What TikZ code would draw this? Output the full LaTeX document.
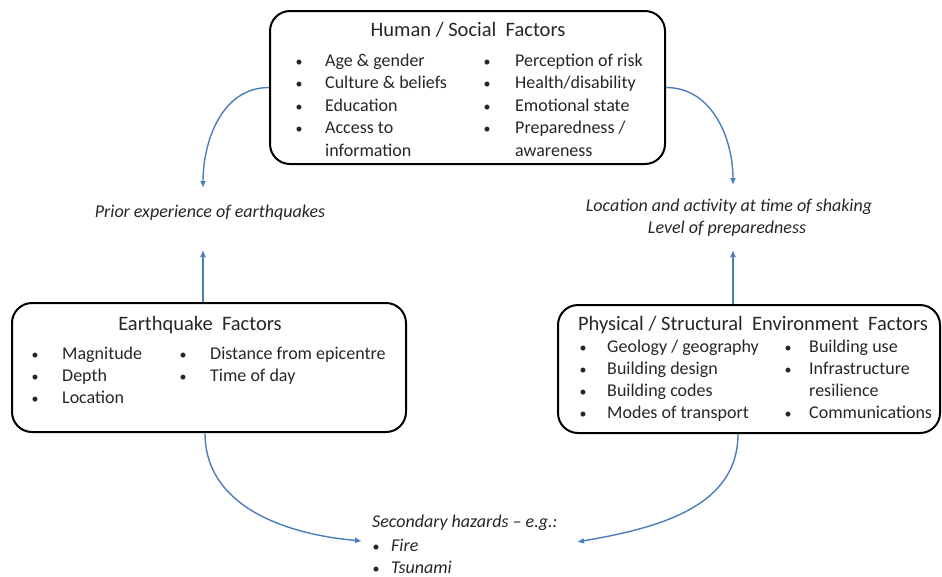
\documentclass[tikz,border=0pt]{standalone}
\usepackage{fontspec}
\setmainfont{Carlito}
\usetikzlibrary{arrows.meta,calc}
\definecolor{txt}{RGB}{38,38,38}
\definecolor{arrblue}{RGB}{74,126,187}
\newcommand\bitem[5]{%
  \node[bul] (#1b) at (#2,#4) {\textbullet};
  \node[itm] (#1) at (#3,#4) {#5};}
\begin{document}
\begin{tikzpicture}[x=1pt,y=-1pt,
  box/.style={draw=black, line width=2pt, rounded corners=20pt, inner sep=0pt},
  itm/.style={anchor=base west, inner sep=0pt, text=txt, font=\fontsize{18}{22}\selectfont},
  bul/.style={anchor=base, inner sep=0pt, text=txt, font=\fontsize{14}{22}\selectfont},
  ttl/.style={anchor=base, inner sep=0pt, text=txt, font=\fontsize{20.5}{24}\selectfont},
  lbl/.style={anchor=base, inner sep=0pt, text=txt, font=\fontsize{18}{22}\selectfont\itshape},
  arr/.style={draw=arrblue, line width=1.4pt, -{Latex[length=7pt,width=6pt]}}]
\useasboundingbox (0,0) rectangle (942,576);

% boxes
\node[box, minimum width=395pt, minimum height=153pt] (human) at (467.5,87.5) {};
\node[box, minimum width=394pt, minimum height=129pt] (eq) at (209,367.5) {};
\node[box, minimum width=382pt, minimum height=128pt] (phys) at (749,369) {};

% human box content
\node[ttl] (humant) at (468,36) {Human / Social\ \ Factors};
\bitem{h1}{299}{325}{66}{Age \& gender}
\bitem{h2}{299}{325}{88.5}{Culture \& beliefs}
\bitem{h3}{299}{325}{111}{Education}
\bitem{h4}{299}{325}{133.5}{Access to}
\node[itm] (h5) at (325,156) {information};
\bitem{h6}{487}{515}{66}{Perception of risk}
\bitem{h7}{487}{515}{88.5}{Health/disability}
\bitem{h8}{487}{515}{111}{Emotional state}
\bitem{h9}{487}{515}{133.5}{Preparedness /}
\node[itm] (h10) at (515,156) {awareness};

% earthquake box content
\node[ttl] (eqt) at (200,330) {Earthquake\ \ Factors};
\bitem{e1}{35}{62}{359}{Magnitude}
\bitem{e2}{35}{62}{381}{Depth}
\bitem{e3}{35}{62}{403}{Location}
\bitem{e4}{183}{210}{359}{Distance from epicentre}
\bitem{e5}{183}{210}{381}{Time of day}

% physical box content
\node[ttl] (physt) at (753,330) {Physical / Structural\ \ Environment\ \ Factors};
\bitem{p1}{583}{607}{352}{Geology / geography}
\bitem{p2}{583}{607}{374}{Building design}
\bitem{p3}{583}{607}{396}{Building codes}
\bitem{p4}{583}{607}{418}{Modes of transport}
\bitem{p5}{788}{809}{352}{Building use}
\bitem{p6}{788}{809}{374}{Infrastructure}
\node[itm] (p7) at (809,396) {resilience};
\bitem{p8}{788}{809}{418}{Communications}

% labels
\node[lbl] (prior) at (210,217) {Prior experience of earthquakes};
\node[lbl] (loc1) at (729,211) {Location and activity at time of shaking};
\node[lbl] (loc2) at (727,233) {Level of preparedness};
\node[lbl, anchor=base west] (sec) at (372,527) {Secondary hazards -- e.g.:};
\node[bul] (s1b) at (376,551) {\textbullet};
\node[lbl, anchor=base west] (s1) at (391,551) {Fire};
\node[bul] (s2b) at (376,573) {\textbullet};
\node[lbl, anchor=base west] (s2) at (391,573) {Tsunami};

% arrow end points
\coordinate (a1) at (203,188);
\coordinate (a2) at (733,185);
\coordinate (a3) at (203,250);
\coordinate (a4) at (733,250);
\coordinate (a5) at (362,541);
\coordinate (a6) at (577,542);

% connectors
\draw[arr] (human.west) to[out=180,in=90] (a1);
\draw[arr] (human.east) to[out=0,in=90] (a2);
\draw[arr] (eq.north -| a3) -- (a3);
\draw[arr] (phys.north -| a4) -- (a4);
\draw[arr] (eq.south -| 205,0) to[out=-90,in=175] (a5);
\draw[arr] (phys.south -| 738,0) to[out=-90,in=10] (a6);
\end{tikzpicture}
\end{document}
